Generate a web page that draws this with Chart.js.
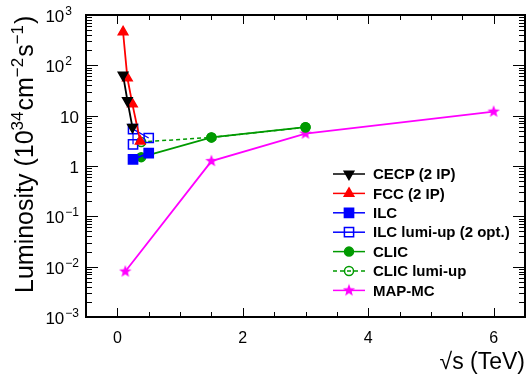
<!DOCTYPE html>
<html>
<head>
<meta charset="utf-8">
<script src="https://cdn.jsdelivr.net/npm/chart.js@4.4.1/dist/chart.umd.min.js"></script>
<style>
  body { margin: 0; background: #fff; }
  #wrap { width: 528px; height: 375px; position: relative; }
</style>
</head>
<body>
<div id="wrap"><canvas id="lumi"></canvas></div>
<script>
// values: sqrt(s) in TeV, luminosity in 10^34 cm^-2 s^-1
const cecpX = [0.091, 0.16, 0.24]
const cecpY = [64, 20, 5.9]
const fccX = [0.091, 0.16, 0.24, 0.365]
const fccY = [460, 56, 17, 3.1]
const ilcX = [0.25, 0.5]
const ilcY = [1.35, 1.8]
const ilcUpX = [0.25, 0.25, 0.5]
const ilcUpY = [2.7, 5.4, 3.6]
const clicX = [0.38, 1.5, 3]
const clicY = [1.5, 3.7, 5.9]
const clicUpX = [0.38, 1.5, 3]
const clicUpY = [3.0, 3.7, 5.9]
const mapX = [0.126, 1.5, 3, 6]
const mapY = [0.008, 1.25, 4.4, 12]

const seriesNames = ["CECP (2 IP)", "FCC (2 IP)", "ILC", "ILC lumi-up (2 opt.)", "CLIC", "CLIC lumi-up", "MAP-MC"]

// axis labels
const xTickValues = [0, 2, 4, 6]
const yTickValues = [0.001, 0.01, 0.1, 1, 10, 100, 1000]
const yTickLabels = ["10^\u22123", "10^\u22122", "10^\u22121", "1", "10", "10^2", "10^3"]

const FONT = "'Liberation Sans', Arial, sans-serif"
const GREEN = "#009a00"

function pts(xs, ys) {
  return xs.map((x, i) => ({ x: x, y: ys[i] }))
}

// filled 5 point star used as marker
function makeStar(color, size) {
  const c = document.createElement("canvas")
  c.width = size; c.height = size
  const g = c.getContext("2d")
  const cx = size / 2, cy = size / 2, ro = size / 2 - 0.5, ri = ro * 0.42
  g.beginPath()
  for (let k = 0; k < 10; k++) {
    const r = k % 2 ? ri : ro
    const a = -Math.PI / 2 + k * Math.PI / 5
    g.lineTo(cx + r * Math.cos(a), cy + r * Math.sin(a))
  }
  g.closePath()
  g.fillStyle = color
  g.fill()
  return c
}
const starImg = makeStar("#ff00ff", 14)

function ds(i, xs, ys, color, style, extra) {
  return Object.assign({
    label: seriesNames[i],
    data: pts(xs, ys),
    showLine: true,
    borderColor: color,
    backgroundColor: color,
    borderWidth: 1.8,
    pointStyle: style,
    pointRadius: 5,
    pointBorderWidth: 1.5,
    pointBorderColor: color,
    pointBackgroundColor: color
  }, extra || {})
}

const datasets = [
  ds(0, cecpX, cecpY, "#000000", "triangle", { pointRotation: 180, pointRadius: 5.5 }),
  ds(1, fccX, fccY, "#ff0000", "triangle", { pointRadius: 5.5 }),
  ds(2, ilcX, ilcY, "#0000ff", "rect", { pointRadius: 6.5 }),
  ds(3, ilcUpX, ilcUpY, "#0000ff", "rect", { pointRadius: 6.5, pointBackgroundColor: "rgba(0,0,0,0)", borderWidth: 1.2 }),
  ds(4, clicX, clicY, GREEN, "circle", { pointRadius: 4.5 }),
  ds(5, clicUpX, clicUpY, GREEN, "circle", { pointRadius: 4.5, pointBackgroundColor: "rgba(0,0,0,0)", borderDash: [4, 3], borderWidth: 1.5 }),
  ds(6, mapX, mapY, "#ff00ff", starImg, { pointRadius: 7 })
]

// draws a "10^n" style label, align right at xr
function drawPow(ctx, text, xr, yb, size, supSize, rise) {
  const parts = text.split("^")
  ctx.font = size + "px " + FONT
  const wb = ctx.measureText(parts[0]).width
  let ws = 0
  if (parts[1]) {
    ctx.font = supSize + "px " + FONT
    ws = ctx.measureText(parts[1]).width + 1
  }
  const x0 = xr - wb - ws
  ctx.textAlign = "left"
  ctx.textBaseline = "alphabetic"
  ctx.font = size + "px " + FONT
  ctx.fillText(parts[0], x0, yb)
  if (parts[1]) {
    ctx.font = supSize + "px " + FONT
    ctx.fillText(parts[1], x0 + wb + 1, yb - rise)
  }
}

const framePlugin = {
  id: "rootFrame",
  afterDraw(chart) {
    const ctx = chart.ctx
    const a = chart.chartArea
    const xs = chart.scales.x, ys = chart.scales.y
    ctx.save()
    ctx.strokeStyle = "#000"
    ctx.fillStyle = "#000"
    ctx.lineWidth = 2
    ctx.strokeRect(a.left, a.top, a.right - a.left, a.bottom - a.top)

    // x ticks, bottom and top
    ctx.lineWidth = 1
    ctx.beginPath()
    for (let v = -0.5; v <= 6.5; v += 0.5) {
      const px = Math.round(xs.getPixelForValue(v)) + 0.5
      const len = (v % 2 === 0) ? 9 : 5
      ctx.moveTo(px, a.bottom); ctx.lineTo(px, a.bottom - len)
      ctx.moveTo(px, a.top); ctx.lineTo(px, a.top + len)
    }
    // y ticks, left and right
    for (let e = -3; e <= 3; e++) {
      const base = Math.pow(10, e)
      const py = Math.round(ys.getPixelForValue(base)) + 0.5
      ctx.moveTo(a.left, py); ctx.lineTo(a.left + 12, py)
      ctx.moveTo(a.right, py); ctx.lineTo(a.right - 12, py)
      if (e < 3) {
        for (let m = 2; m <= 9; m++) {
          const qy = Math.round(ys.getPixelForValue(m * base)) + 0.5
          ctx.moveTo(a.left, qy); ctx.lineTo(a.left + 6, qy)
          ctx.moveTo(a.right, qy); ctx.lineTo(a.right - 6, qy)
        }
      }
    }
    ctx.stroke()

    // x tick labels
    ctx.font = "16px " + FONT
    ctx.textAlign = "center"
    ctx.textBaseline = "alphabetic"
    xTickValues.forEach(v => {
      ctx.fillText(String(v), xs.getPixelForValue(v), a.bottom + 26)
    })

    // y tick labels
    yTickValues.forEach((v, i) => {
      const lab = yTickLabels[i]
      const py = ys.getPixelForValue(v)
      const xr = (lab.indexOf("^") > 0 && lab.indexOf("\u2212") < 0) ? 72 : 79
      drawPow(ctx, lab, xr, py + 7, 17, 12, 7)
    })

    // x title
    ctx.font = "23px " + FONT
    ctx.textAlign = "right"
    ctx.fillText("\u221As (TeV)", 525, 369)

    // y title, rotated
    ctx.save()
    ctx.translate(33, 293)
    ctx.rotate(-Math.PI / 2)
    ctx.textAlign = "left"
    let x = 0
    const runs = [["Luminosity (10", 0], ["34", 1], ["cm", 0], ["\u22122", 1], ["s", 0], ["\u22121", 1], [")", 0]]
    runs.forEach(r => {
      ctx.font = (r[1] ? "17px " : "25px ") + FONT
      ctx.fillText(r[0], x, r[1] ? -10 : 0)
      x += ctx.measureText(r[0]).width + (r[1] ? 1 : 0)
    })
    ctx.restore()

    // legend
    chart.data.datasets.forEach((d, i) => {
      const y = 174 + i * 19.4
      ctx.save()
      ctx.strokeStyle = d.borderColor
      ctx.lineWidth = 1.5
      ctx.setLineDash(d.borderDash || [])
      ctx.beginPath()
      ctx.moveTo(333, y); ctx.lineTo(365, y)
      ctx.stroke()
      ctx.setLineDash([])
      ctx.fillStyle = d.pointBackgroundColor
      ctx.strokeStyle = d.pointBorderColor
      ctx.lineWidth = d.pointBorderWidth
      Chart.helpers.drawPoint(ctx, {
        pointStyle: d.pointStyle,
        rotation: d.pointRotation || 0,
        radius: d.pointRadius,
        borderWidth: d.pointBorderWidth
      }, 349, y)
      ctx.restore()
      ctx.font = "bold 15px " + FONT
      ctx.textAlign = "left"
      ctx.textBaseline = "middle"
      ctx.fillText(d.label, 373, y + 1)
    })
    ctx.restore()
  }
}

new Chart(document.getElementById("lumi"), {
  type: "scatter",
  data: { datasets: datasets },
  options: {
    responsive: true,
    maintainAspectRatio: false,
    animation: false,
    layout: { autoPadding: false, padding: { left: 86, right: 3, top: 15, bottom: 58 } },
    plugins: { legend: { display: false }, tooltip: { enabled: false } },
    scales: {
      x: { type: "linear", min: -0.5, max: 6.5, display: false },
      y: { type: "logarithmic", min: 0.001, max: 1000, display: false }
    }
  },
  plugins: [framePlugin]
})
</script>
</body>
</html>
